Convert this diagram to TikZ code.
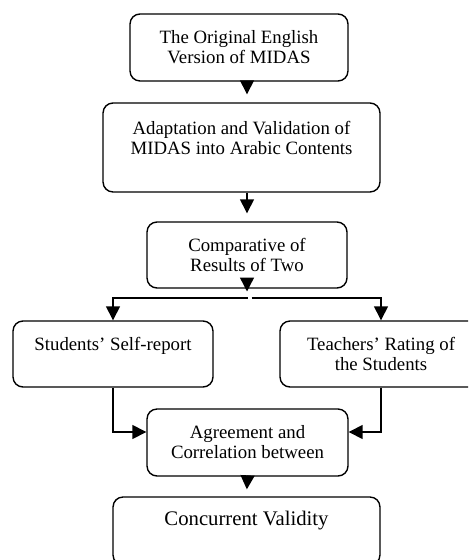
\documentclass[tikz,border=0pt]{standalone}
\usepackage{fontspec}
\setmainfont{Liberation Serif}
\usetikzlibrary{calc}
\usetikzlibrary{arrows.meta}
\tikzstyle{box}=[draw, rounded corners=0.2cm, line width=0.8pt, align=center, inner sep=0pt, font=\fontsize{10.7}{11.4}\selectfont]
\tikzstyle{arr}=[line width=0.8pt, -{Triangle[width=0.28cm,length=0.28cm]}]

\begin{document}
\begin{tikzpicture}[x=0.02cm, y=-0.02cm]
		\clip (0, 0) rectangle (468, 560);
		\useasboundingbox (0, 0) rectangle (468, 560);
		\node(orig)[box, minimum width=4.36cm, minimum height=1.34cm] at (239, 47.5) {The Original English\\Version of MIDAS};
		\node(adapt)[box, minimum width=5.54cm, minimum height=1.78cm] at (241.5, 147.5) {Adaptation and Validation of\\MIDAS into Arabic Contents\\\mbox{}};
		\node(comp)[box, minimum width=4cm, minimum height=1.32cm] at (247, 255) {Comparative of\\Results of Two};
		\node(self)[box, minimum width=4cm, minimum height=1.32cm] at (113, 354) {Students’ Self-report\\\mbox{}};
		\node(rate)[box, minimum width=4.04cm, minimum height=1.32cm] at (381, 354) {Teachers’ Rating of\\the Students};
		\node(agree)[box, minimum width=4.02cm, minimum height=1.34cm] at (247.5, 442.5) {Agreement and\\Correlation between};
		\node(valid)[box, minimum width=5.34cm, minimum height=1.36cm, font=\fontsize{11.8}{14}\selectfont] at (246.5, 531) {Concurrent Validity\\\mbox{}};
		\coordinate(fork) at (247, 291.5);
		\coordinate(forkl) at (247.5, 298);
		\coordinate(forkr) at (251.5, 298);
		\draw[arr, shorten >=0.16cm] (orig.south -| comp) -- (adapt.north -| comp);
		\draw[arr, shorten >=0.16cm] (adapt.south -| comp) -- (comp.north);
		\draw[arr] (comp.south) -- (fork);
		\draw[arr] (forkl) -| (self.north);
		\draw[arr] (forkr) -| (rate.north);
		\draw[arr] (self.south) |- ([yshift=0.21cm]agree.west);
		\draw[arr] (rate.south) |- ([yshift=0.21cm]agree.east);
		\draw[arr, shorten >=0.14cm] (agree.south) -- (valid.north);
		\end{tikzpicture}
\end{document}
